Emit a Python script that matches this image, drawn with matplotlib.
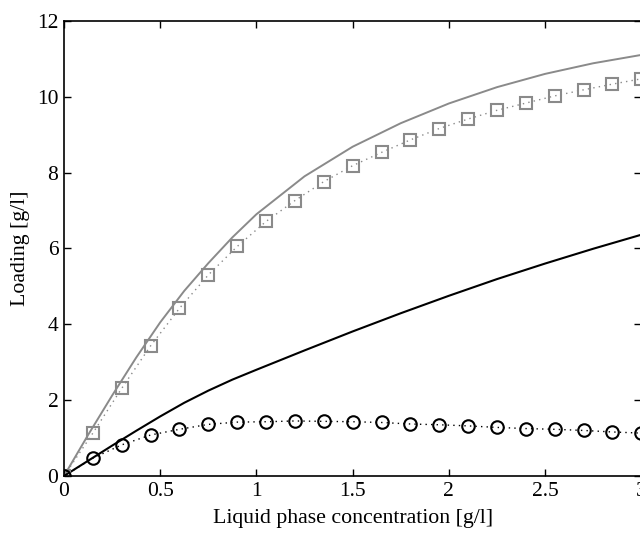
import numpy as np
import matplotlib
matplotlib.use("Agg")
import matplotlib.pyplot as plt

plt.rcParams['font.family'] = ['Liberation Serif', 'DejaVu Serif']

# measured points (markers)
x_pts = [0, 0.15, 0.3, 0.45, 0.6, 0.75, 0.9, 1.05, 1.2, 1.35, 1.5, 1.65, 1.8,
         1.95, 2.1, 2.25, 2.4, 2.55, 2.7, 2.85, 3.0]
sq_pts = [0, 1.13, 2.31, 3.43, 4.42, 5.30, 6.05, 6.71, 7.26, 7.76, 8.18, 8.53,
          8.86, 9.16, 9.41, 9.64, 9.83, 10.02, 10.18, 10.33, 10.47]
ci_pts = [0, 0.47, 0.82, 1.08, 1.23, 1.36, 1.42, 1.43, 1.45, 1.44, 1.43, 1.41,
          1.37, 1.35, 1.32, 1.28, 1.25, 1.23, 1.20, 1.16, 1.13]

# model curves
x_line = [0, 0.125, 0.25, 0.375, 0.5, 0.625, 0.75, 0.875, 1.0, 1.25, 1.5,
          1.75, 2.0, 2.25, 2.5, 2.75, 3.0]
grey_line = [0, 1.08, 2.12, 3.12, 4.05, 4.88, 5.61, 6.29, 6.90, 7.90, 8.68,
             9.30, 9.82, 10.25, 10.60, 10.88, 11.10]
black_line = [0, 0.40, 0.80, 1.19, 1.57, 1.93, 2.25, 2.54, 2.80, 3.31, 3.81,
              4.29, 4.75, 5.19, 5.60, 5.99, 6.36]

grey = '#8a8a8a'

fig = plt.figure(figsize=(6.4, 5.33), dpi=100)
ax = fig.add_axes([0.1, 0.107, 0.902, 0.854])

ax.plot(x_line, grey_line, color=grey, lw=1.4)
ax.plot(x_line, black_line, color='black', lw=1.5)
ax.plot(x_pts, sq_pts, linestyle=(0, (1, 3)), color=grey, lw=1.0,
        marker='s', markersize=8, markerfacecolor='none',
        markeredgecolor=grey, markeredgewidth=1.5)
ax.plot(x_pts, ci_pts, linestyle=(0, (1, 3)), color='black', lw=1.0,
        marker='o', markersize=9, markerfacecolor='none',
        markeredgecolor='black', markeredgewidth=1.5)

ax.set_xlim(0, 3)
ax.set_ylim(0, 12)
ax.set_xticks([0, 0.5, 1, 1.5, 2, 2.5, 3])
ax.set_xticklabels(['0', '0.5', '1', '1.5', '2', '2.5', '3'])
ax.set_yticks([0, 2, 4, 6, 8, 10, 12])
ax.tick_params(direction='in', top=True, right=True, length=5, width=1,
               labelsize=15.5, pad=4)
for s in ax.spines.values():
    s.set_linewidth(1.2)

ax.set_xlabel('Liquid phase concentration [g/l]', fontsize=15.7, labelpad=6)
ax.set_ylabel('Loading [g/l]', fontsize=15.7, labelpad=5)

fig.savefig('out.png', dpi=100)
